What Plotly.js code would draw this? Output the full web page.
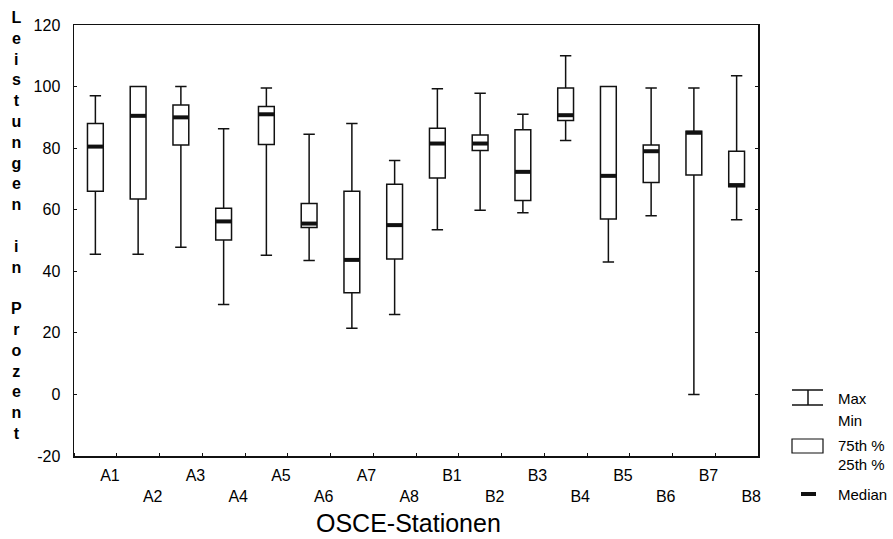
<!DOCTYPE html>
<html>
<head>
<meta charset="utf-8">
<script src="https://cdn.plot.ly/plotly-3.0.1.min.js"></script>
<style>html,body{margin:0;padding:0;background:#fff;}#chart{width:893px;height:539px;}</style>
</head>
<body>
<div id="chart"></div>
<script>
// ---- data ----
var stations = ['A1','A2','A3','A4','A5','A6','A7','A8','B1','B2','B3','B4','B5','B6','B7','B8'];
var maxVals  = [97, 100, 100, 86.3, 99.5, 84.5, 88, 76, 99.3, 97.8, 91, 110, 100, 99.5, 99.5, 103.5];
var q3Vals   = [88, 100, 94, 60.5, 93.5, 62, 66, 68.3, 86.5, 84.3, 86, 99.5, 100, 81, 85.5, 79];
var medVals  = [80.5, 90.5, 90, 56.2, 91, 55.5, 43.7, 55, 81.5, 81.5, 72.3, 90.7, 71, 79, 85, 68];
var q1Vals   = [66, 63.5, 81, 50.2, 81.2, 54.2, 33, 44, 70.3, 79.2, 63, 89, 57, 68.8, 71.3, 67.5];
var minVals  = [45.5, 45.5, 47.8, 29.2, 45.2, 43.5, 21.5, 26, 53.5, 59.8, 59, 82.5, 43, 58, 0, 56.7];
var yTicks   = [-20, 0, 20, 40, 60, 80, 100, 120];
var yTitle   = 'Leistungen in Prozent';
var xTitle   = 'OSCE-Stationen';
var legendLabels = ['Max', 'Min', '75th %', '25th %', 'Median'];

var idx = stations.map(function(_, i){ return i; });
var FONT = '"Liberation Sans", Arial, Helvetica, sans-serif';
var INK = '#111';

// plot geometry in pixels
var W = 893, H = 539, L = 74, R = 758, T = 25, B = 456;
function px(x){ return (x - L) / (R - L); }
function py(y){ return (B - y) / (B - T); }

var boxTrace = {
  type: 'box',
  x: idx,
  q1: q1Vals, median: medVals, q3: q3Vals,
  lowerfence: minVals, upperfence: maxVals,
  width: 0.37,
  whiskerwidth: 0.72,
  fillcolor: 'white',
  line: {color: INK, width: 1.5},
  boxpoints: false,
  hoverinfo: 'skip',
  showlegend: false
};

var medianTrace = {
  type: 'scatter',
  mode: 'markers',
  x: idx,
  y: medVals,
  marker: {symbol: 'line-ew', size: 11.3, color: INK, line: {color: INK, width: 4}},
  hoverinfo: 'skip',
  showlegend: false,
  cliponaxis: false
};

// stacked vertical y title (one letter per line)
var yTitleText = yTitle.split('').map(function(c){ return c === ' ' ? '\u00A0' : c; }).join('<br>');

var annotations = [
  {text: yTitleText, xref: 'paper', yref: 'paper', x: px(16), y: py(225),
   xanchor: 'center', yanchor: 'middle', showarrow: false, align: 'center',
   font: {family: FONT, size: 16, color: '#000', weight: 'bold'}},
  {text: xTitle, xref: 'paper', yref: 'paper', x: px(408), y: py(523),
   xanchor: 'center', yanchor: 'middle', showarrow: false,
   font: {family: FONT, size: 25, color: '#000'}}
];
var legendY = [398, 420, 445, 464, 495];
legendLabels.forEach(function(t, i){
  annotations.push({text: t, xref: 'paper', yref: 'paper', x: px(836), y: py(legendY[i]),
    xanchor: 'left', yanchor: 'middle', showarrow: false,
    font: {family: FONT, size: 15, color: '#000'}});
});

var shapes = [
  {type: 'line', xref: 'paper', yref: 'paper', x0: px(792), x1: px(823), y0: py(390), y1: py(390), line: {color: INK, width: 1.5}},
  {type: 'line', xref: 'paper', yref: 'paper', x0: px(792), x1: px(823), y0: py(405), y1: py(405), line: {color: INK, width: 1.5}},
  {type: 'line', xref: 'paper', yref: 'paper', x0: px(808), x1: px(808), y0: py(390), y1: py(405), line: {color: INK, width: 1.5}},
  {type: 'rect', xref: 'paper', yref: 'paper', x0: px(792), x1: px(823), y0: py(439), y1: py(453), line: {color: INK, width: 1.2}, fillcolor: 'white'},
  {type: 'line', xref: 'paper', yref: 'paper', x0: px(801), x1: px(816), y0: py(494), y1: py(494), line: {color: INK, width: 4}}
];

var layout = {
  width: W, height: H,
  margin: {l: L, r: W - R, t: T, b: H - B, pad: 0},
  paper_bgcolor: 'white', plot_bgcolor: 'white',
  font: {family: FONT, size: 16, color: '#000'},
  showlegend: false,
  xaxis: {
    range: [-0.5, stations.length - 0.5],
    tickmode: 'array',
    tickvals: idx.map(function(i){ return i + 0.34; }),
    ticktext: stations.map(function(s, i){ return i % 2 === 1 ? '<br>' + s : s; }),
    ticks: '',
    ticklabelstandoff: 4,
    tickfont: {family: FONT, size: 16, color: '#000'},
    showline: true, linecolor: INK, linewidth: 1.5, mirror: true,
    showgrid: false, zeroline: false, fixedrange: true,
    minor: {tickmode: 'linear', tick0: -0.5, dtick: 1, ticks: 'inside', ticklen: 3, tickcolor: INK, tickwidth: 1}
  },
  yaxis: {
    range: [-20, 120],
    tickmode: 'array', tickvals: yTicks, ticktext: yTicks.map(String),
    ticks: 'inside', ticklen: 3, tickcolor: INK, tickwidth: 1,
    ticklabelstandoff: 9,
    tickfont: {family: FONT, size: 16, color: '#000'},
    showline: true, linecolor: INK, linewidth: 1.5, mirror: 'ticks',
    showgrid: false, zeroline: false, fixedrange: true
  },
  annotations: annotations,
  shapes: shapes
};

Plotly.newPlot('chart', [boxTrace, medianTrace], layout, {staticPlot: true, displayModeBar: false});
</script>
</body>
</html>
